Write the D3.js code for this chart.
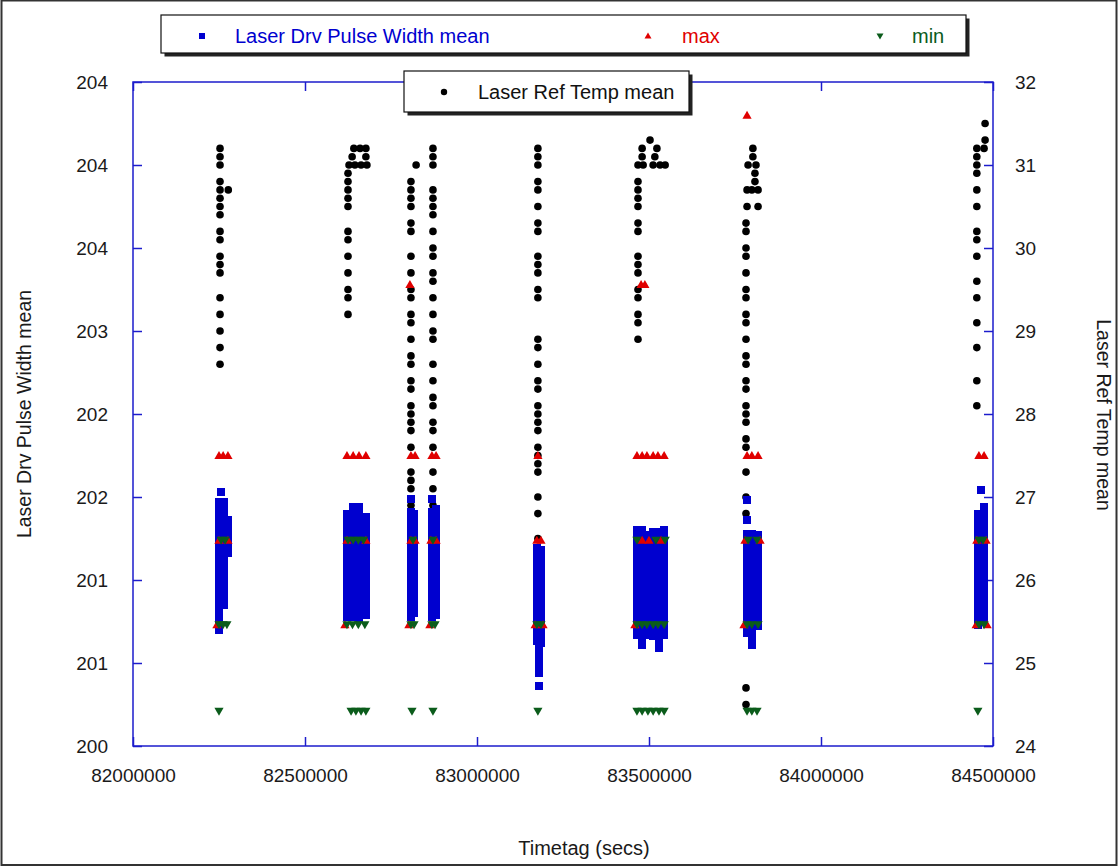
<!DOCTYPE html>
<html><head><meta charset="utf-8">
<script src="https://cdn.jsdelivr.net/npm/d3@7"></script>
<style>
body{margin:0;background:#fff;}
svg{display:block;font-family:"Liberation Sans",Arial,sans-serif;}
</style>
</head><body>
<svg id="chart" width="1118" height="867"></svg>
<script>
// ---------------- DATA ----------------
const xTickValues = [82000000, 82500000, 83000000, 83500000, 84000000, 84500000];
const leftTickValues = [200, 200.5, 201, 201.5, 202, 202.5, 203, 203.5, 204];
const leftTickLabels = ["200", "201", "201", "202", "202", "203", "204", "204", "204"];
const rightTickValues = [24, 25, 26, 27, 28, 29, 30, 31, 32];

// Laser Drv Pulse Width mean : [timetag, [values at that timetag]]
const pulseMeanCols = [
  [82256000,[201.53]],
  [82250000,[201.47,201.43,201.39,201.36,201.32,201.28,201.24,201.20,201.16,201.12,201.08,201.04,201.00,200.96,200.92,200.88,200.84,200.80,200.76,200.72,200.70]],
  [82265000,[201.47,201.43,201.39,201.35,201.31,201.27,201.23,201.19,201.15,201.11,201.07,201.03,200.99,200.95,200.91,200.87,200.85]],
  [82276000,[201.36,201.32,201.28,201.24,201.20,201.16]],
  [82622000,[201.40,201.36,201.32,201.28,201.25,201.21,201.17,201.13,201.09,201.05,201.01,200.97,200.94,200.90,200.86,200.82,200.78]],
  [82640000,[201.44,201.41,201.37,201.33,201.29,201.25,201.21,201.17,201.13,201.09,201.05,201.01,200.97,200.93,200.89,200.85,200.81,200.78]],
  [82657000,[201.44,201.40,201.36,201.32,201.28,201.24,201.20,201.16,201.12,201.08,201.04,201.00,200.96,200.92,200.88,200.84,200.80,200.77]],
  [82677000,[201.38,201.34,201.30,201.26,201.22,201.18,201.14,201.10,201.06,201.02,200.98,200.94,200.90,200.86,200.82,200.79]],
  [82808000,[201.49,201.41,201.37,201.33,201.29,201.25,201.21,201.17,201.13,201.09,201.05,201.01,200.97,200.93,200.89,200.85,200.81,200.78]],
  [82818000,[201.40,201.36,201.32,201.28,201.24,201.20,201.16,201.12,201.08,201.04,201.00,200.96,200.92,200.88,200.84,200.80]],
  [82869000,[201.49,201.41,201.37,201.33,201.29,201.25,201.21,201.17,201.13,201.09,201.05,201.01,200.97,200.93,200.89,200.85,200.81,200.78]],
  [82881000,[201.43,201.39,201.35,201.31,201.27,201.23,201.19,201.15,201.11,201.07,201.03,200.99,200.95,200.91,200.87,200.83,200.79]],
  [83174000,[201.19,201.15,201.11,201.07,201.03,200.99,200.95,200.91,200.87,200.83,200.79,200.75,200.71,200.67,200.63]],
  [83186000,[201.18,201.14,201.10,201.06,201.02,200.98,200.94,200.90,200.86,200.82,200.78,200.74,200.70,200.66,200.62]],
  [83180000,[200.59,200.55,200.51,200.47,200.44,200.36]],
  [83464000,[201.30,201.26,201.22,201.18,201.14,201.10,201.06,201.02,200.98,200.94,200.90,200.86,200.82,200.78,200.74,200.70,200.67]],
  [83480000,[201.30,201.26,201.22,201.18,201.14,201.10,201.06,201.02,200.98,200.94,200.90,200.86,200.82,200.78,200.74,200.70,200.66,200.63,200.61]],
  [83496000,[201.27,201.23,201.19,201.15,201.11,201.07,201.03,200.99,200.95,200.91,200.87,200.83,200.79,200.75,200.71,200.67]],
  [83512000,[201.29,201.25,201.21,201.17,201.13,201.09,201.05,201.01,200.97,200.93,200.89,200.85,200.81,200.77,200.73,200.69,200.66]],
  [83528000,[201.29,201.25,201.21,201.17,201.13,201.09,201.05,201.01,200.97,200.93,200.89,200.85,200.81,200.77,200.73,200.69,200.65,200.62,200.59]],
  [83545000,[201.30,201.26,201.22,201.18,201.14,201.10,201.06,201.02,200.98,200.94,200.90,200.86,200.82,200.78,200.74,200.70,200.67]],
  [83785000,[201.48,201.36,201.28,201.24,201.20,201.16,201.12,201.08,201.04,201.00,200.96,200.92,200.88,200.84,200.80,200.76,200.72,200.68]],
  [83799000,[201.28,201.24,201.20,201.16,201.12,201.08,201.04,201.00,200.96,200.92,200.88,200.84,200.80,200.76,200.72,200.68,200.64,200.61]],
  [83816000,[201.27,201.23,201.19,201.15,201.11,201.07,201.03,200.99,200.95,200.91,200.87,200.83,200.79,200.75,200.72]],
  [84465000,[201.54]],
  [84457000,[201.40,201.36,201.32,201.28,201.24,201.20,201.16,201.12,201.08,201.04,201.00,200.96,200.92,200.88,200.84,200.80,200.76,200.73]],
  [84474000,[201.44,201.40,201.36,201.32,201.28,201.24,201.20,201.16,201.12,201.08,201.04,201.00,200.96,200.92,200.88,200.84,200.80,200.76]]
];

// Laser Drv Pulse Width max : [timetag, value]
const pulseMax = [
  [82250000,201.75],[82262000,201.75],[82276000,201.75],
  [82622000,201.75],[82640000,201.75],[82657000,201.75],[82677000,201.75],
  [82808000,201.75],[82820000,201.75],[82869000,201.75],[82881000,201.75],
  [83177000,201.75],
  [83465000,201.75],[83480000,201.75],[83494000,201.75],[83512000,201.75],[83526000,201.75],[83544000,201.75],
  [83785000,201.75],[83799000,201.75],[83817000,201.75],
  [84459000,201.75],[84474000,201.75],
  [82250000,201.24],[82276000,201.24],[82622000,201.24],[82677000,201.24],
  [82808000,201.24],[82820000,201.24],[82866000,201.24],[82881000,201.24],
  [83174000,201.24],[83186000,201.24],
  [83480000,201.24],[83500000,201.24],[83535000,201.24],
  [83779000,201.24],[83823000,201.24],[84453000,201.24],[84480000,201.24],
  [82244000,200.73],[82616000,200.73],[82802000,200.73],[82863000,200.73],
  [83169000,200.73],[83192000,200.73],[83459000,200.73],[83776000,200.73],[84451000,200.73],[84483000,200.73],
  [82805000,202.78],[83477000,202.78],[83488000,202.78],
  [83785000,203.80]
];

// Laser Drv Pulse Width min : [timetag, value]
const pulseMin = [
  [82256000,201.24],[82268000,201.24],
  [82625000,201.24],[82640000,201.24],[82655000,201.24],[82670000,201.24],
  [82814000,201.24],[82872000,201.24],
  [83465000,201.24],[83520000,201.24],[83547000,201.24],
  [83788000,201.24],[83814000,201.24],[84459000,201.24],[84471000,201.24],
  [82250000,200.73],[82262000,200.73],[82273000,200.73],
  [82622000,200.73],[82638000,200.73],[82655000,200.73],[82674000,200.73],
  [82808000,200.73],[82817000,200.73],[82869000,200.73],[82878000,200.73],
  [83174000,200.73],[83186000,200.73],
  [83465000,200.73],[83480000,200.73],[83494000,200.73],[83512000,200.73],[83526000,200.73],[83544000,200.73],
  [83785000,200.73],[83799000,200.73],[83817000,200.73],[84459000,200.73],[84474000,200.73],
  [82250000,200.21],
  [82634000,200.21],[82648000,200.21],[82663000,200.21],[82677000,200.21],
  [82811000,200.21],[82872000,200.21],[83177000,200.21],
  [83465000,200.21],[83480000,200.21],[83497000,200.21],[83512000,200.21],[83529000,200.21],[83544000,200.21],
  [83785000,200.21],[83799000,200.21],[83814000,200.21],
  [84456000,200.21]
];

// Laser Ref Temp mean : [timetag, value]
const tempMean = [
  [82253000,31.2],[82253000,31.1],[82253000,31.0],[82253000,30.8],[82253000,30.7],[82277000,30.7],
  [82253000,30.6],[82253000,30.5],[82253000,30.4],[82253000,30.2],[82253000,30.1],[82253000,29.9],
  [82253000,29.8],[82253000,29.7],[82253000,29.4],[82253000,29.2],[82253000,29.0],[82253000,28.8],[82253000,28.6],
  [82642000,31.2],[82660000,31.2],[82677000,31.2],[82637000,31.1],[82677000,31.1],
  [82628000,31.0],[82645000,31.0],[82663000,31.0],[82680000,31.0],
  [82625000,30.9],[82625000,30.8],[82625000,30.7],[82625000,30.6],[82625000,30.5],[82625000,30.2],
  [82625000,30.1],[82625000,29.9],[82625000,29.7],[82625000,29.5],[82625000,29.4],[82625000,29.2],
  [82823000,31.0],[82808000,30.8],[82808000,30.7],[82808000,30.6],[82808000,30.5],[82808000,30.3],
  [82808000,30.2],[82808000,29.9],[82808000,29.7],[82808000,29.5],[82808000,29.4],[82808000,29.2],
  [82808000,29.1],[82808000,28.9],[82808000,28.7],[82808000,28.6],[82808000,28.4],[82808000,28.3],
  [82808000,28.1],[82808000,28.0],[82808000,27.9],[82808000,27.8],[82808000,27.6],[82808000,27.3],
  [82808000,27.2],[82808000,27.1],[82808000,26.9],
  [82872000,31.2],[82872000,31.1],[82872000,31.0],[82872000,30.7],[82872000,30.6],[82872000,30.5],
  [82872000,30.4],[82872000,30.2],[82872000,30.0],[82872000,29.9],[82872000,29.7],[82872000,29.6],
  [82872000,29.4],[82872000,29.2],[82872000,29.0],[82872000,28.9],[82872000,28.6],[82872000,28.4],
  [82872000,28.2],[82872000,28.1],[82872000,27.9],[82872000,27.8],[82872000,27.6],[82872000,27.3],
  [82872000,27.1],[82872000,26.9],
  [83177000,31.2],[83177000,31.1],[83177000,31.0],[83177000,30.8],[83177000,30.7],[83177000,30.5],
  [83177000,30.3],[83177000,30.2],[83177000,29.9],[83177000,29.8],[83177000,29.7],[83177000,29.5],
  [83177000,29.4],[83177000,28.9],[83177000,28.8],[83177000,28.6],[83177000,28.4],[83177000,28.3],
  [83177000,28.1],[83177000,28.0],[83177000,27.9],[83177000,27.8],[83177000,27.6],[83177000,27.5],
  [83177000,27.4],[83177000,27.3],[83177000,27.0],[83177000,26.8],[83177000,26.5],
  [83503000,31.3],[83480000,31.2],[83523000,31.2],[83480000,31.1],[83517000,31.1],
  [83468000,31.0],[83483000,31.0],[83512000,31.0],[83532000,31.0],[83547000,31.0],
  [83468000,30.8],[83468000,30.7],[83468000,30.6],[83468000,30.5],[83468000,30.3],[83468000,30.2],
  [83468000,29.9],[83468000,29.8],[83468000,29.7],[83468000,29.5],[83468000,29.4],[83468000,29.2],
  [83468000,29.1],[83468000,28.9],
  [83802000,31.2],[83802000,31.1],[83788000,31.0],[83811000,31.0],[83808000,30.9],[83808000,30.8],
  [83785000,30.7],[83799000,30.7],[83817000,30.7],[83785000,30.5],[83817000,30.5],
  [83782000,30.3],[83782000,30.2],[83782000,30.0],[83782000,29.9],[83782000,29.7],[83782000,29.5],
  [83782000,29.4],[83782000,29.2],[83782000,29.1],[83782000,28.9],[83782000,28.7],[83782000,28.6],
  [83782000,28.4],[83782000,28.3],[83782000,28.1],[83782000,28.0],[83782000,27.9],[83782000,27.7],
  [83782000,27.6],[83782000,27.3],[83782000,27.0],[83782000,26.8],[83782000,24.7],[83782000,24.5],
  [84477000,31.5],[84477000,31.3],[84453000,31.2],[84474000,31.2],[84453000,31.1],[84453000,31.0],
  [84453000,30.9],[84453000,30.7],[84453000,30.5],[84453000,30.2],[84453000,30.1],[84453000,29.9],
  [84453000,29.6],[84453000,29.4],[84453000,29.1],[84453000,28.8],[84453000,28.4],[84453000,28.1]
];

// ---------------- DRAW ----------------
const W = 1118, H = 867;
const plot = {left: 133, right: 993, top: 82, bottom: 746};
const axisColor = "#1c1ccc";
const blue = "#0000cf", red = "#e00000", green = "#0b5c1b";

const svg = d3.select("#chart");
svg.append("rect").attr("x",1.5).attr("y",0.5).attr("width",W-3).attr("height",H-2.5)
  .attr("fill","#fff").attr("stroke","#333").attr("stroke-width",2);

const x = d3.scaleLinear().domain([82000000, 84500000]).range([plot.left, plot.right]);
const yL = d3.scaleLinear().domain([200, 204]).range([plot.bottom, plot.top]);
const yR = d3.scaleLinear().domain([24, 32]).range([plot.bottom, plot.top]);

// frame
svg.append("rect").attr("x",plot.left).attr("y",plot.top)
  .attr("width",plot.right-plot.left).attr("height",plot.bottom-plot.top)
  .attr("fill","none").attr("stroke",axisColor).attr("stroke-width",1.5);

function styleAxis(g){
  g.select(".domain").remove();
  g.selectAll(".tick line").attr("stroke",axisColor).attr("stroke-width",1.5);
  g.selectAll(".tick text").attr("fill","#1a1a1a").style("font-size","19px")
   .style("font-family","'Liberation Sans',Arial,sans-serif");
}
svg.append("g").attr("transform",`translate(0,${plot.bottom})`)
  .call(d3.axisBottom(x).tickValues(xTickValues).tickFormat(d3.format("d")).tickSizeInner(-9).tickSizeOuter(0).tickPadding(23))
  .call(styleAxis);
svg.append("g").attr("transform",`translate(0,${plot.top})`)
  .call(d3.axisTop(x).tickValues(xTickValues).tickFormat("").tickSizeInner(-9).tickSizeOuter(0))
  .call(styleAxis);
svg.append("g").attr("transform",`translate(${plot.left},0)`)
  .call(d3.axisLeft(yL).tickValues(leftTickValues).tickFormat((d,i)=>leftTickLabels[i]).tickSizeInner(-9).tickSizeOuter(0).tickPadding(25))
  .call(styleAxis);
svg.append("g").attr("transform",`translate(${plot.right},0)`)
  .call(d3.axisRight(yR).tickValues(rightTickValues).tickFormat(d3.format("d")).tickSizeInner(-9).tickSizeOuter(0).tickPadding(22))
  .call(styleAxis);

// axis titles
svg.append("text").attr("transform",`translate(31,414) rotate(-90)`).attr("text-anchor","middle")
  .style("font-size","19.5px").attr("fill","#1a1a1a").text("Laser Drv Pulse Width mean");
svg.append("text").attr("transform",`translate(1097,415) rotate(90)`).attr("text-anchor","middle")
  .style("font-size","19.5px").attr("fill","#1a1a1a").text("Laser Ref Temp mean");
svg.append("text").attr("x",584).attr("y",855).attr("text-anchor","middle")
  .style("font-size","20px").attr("fill","#1a1a1a").text("Timetag (secs)");

const triUp = "M0,-4.5L4.6,3.5L-4.6,3.5Z";
const triDown = "M0,4.5L4.6,-3.5L-4.6,-3.5Z";

// marks: temp (back), mean, max, min
const marks = svg.append("g");
marks.selectAll("circle.temp").data(tempMean).join("circle").attr("class","temp")
  .attr("cx",d=>x(d[0])).attr("cy",d=>yR(d[1])).attr("r",3.8).attr("fill","#000");

const meanPts = pulseMeanCols.flatMap(([t,vals]) => vals.map(v => [t,v]));
const sq = 8;
marks.selectAll("rect.mean").data(meanPts).join("rect").attr("class","mean")
  .attr("x",d=>x(d[0])-sq/2).attr("y",d=>yL(d[1])-sq/2).attr("width",sq).attr("height",sq)
  .attr("fill",blue).attr("shape-rendering","crispEdges");

marks.selectAll("path.max").data(pulseMax).join("path").attr("class","max")
  .attr("d",triUp).attr("transform",d=>`translate(${x(d[0])},${yL(d[1])})`).attr("fill",red);
marks.selectAll("path.min").data(pulseMin).join("path").attr("class","min")
  .attr("d",triDown).attr("transform",d=>`translate(${x(d[0])},${yL(d[1])})`).attr("fill",green);

// legends
function box(x0,y0,w,h){
  svg.append("rect").attr("x",x0+3.5).attr("y",y0+3.5).attr("width",w).attr("height",h).attr("fill","#222");
  svg.append("rect").attr("x",x0).attr("y",y0).attr("width",w).attr("height",h)
    .attr("fill","#fff").attr("stroke","#111").attr("stroke-width",1.2);
}
box(161,15,805,38);
svg.append("rect").attr("x",199).attr("y",33).attr("width",6).attr("height",6).attr("fill",blue);
svg.append("text").attr("x",235).attr("y",43).style("font-size","20px").attr("fill",blue).text("Laser Drv Pulse Width mean");
svg.append("path").attr("d","M0,-3.5L3.5,2.5L-3.5,2.5Z").attr("transform","translate(648,36)").attr("fill",red);
svg.append("text").attr("x",682).attr("y",43).style("font-size","20px").attr("fill",red).text("max");
svg.append("path").attr("d","M0,3.5L3.5,-2.5L-3.5,-2.5Z").attr("transform","translate(880,36)").attr("fill",green);
svg.append("text").attr("x",912).attr("y",43).style("font-size","20px").attr("fill",green).text("min");

box(404,71,285,41);
svg.append("circle").attr("cx",444).attr("cy",92).attr("r",3.2).attr("fill","#000");
svg.append("text").attr("x",478).attr("y",99).style("font-size","20px").attr("fill","#111").text("Laser Ref Temp mean");
</script>
</body></html>
